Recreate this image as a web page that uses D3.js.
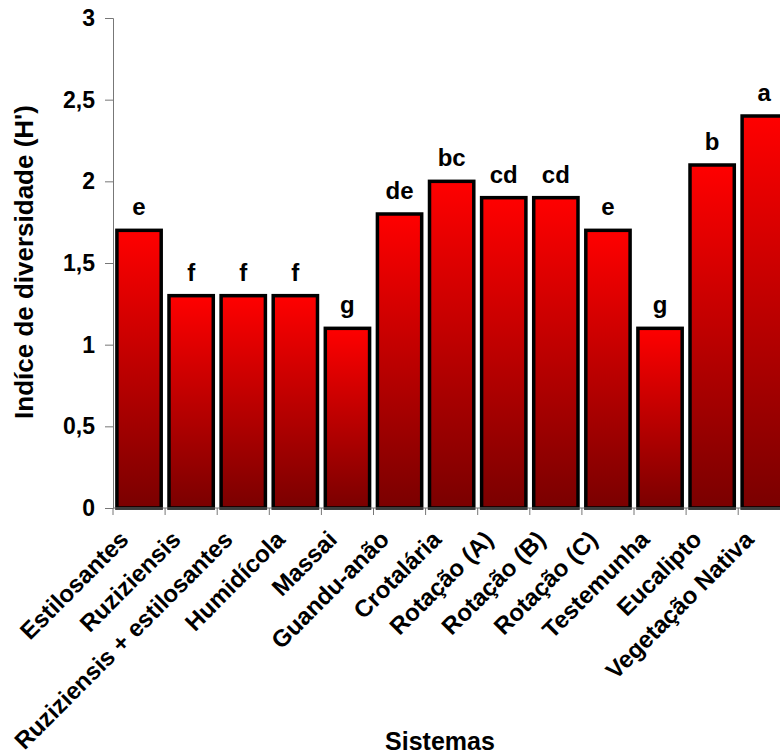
<!DOCTYPE html>
<html>
<head>
<meta charset="utf-8">
<script src="https://cdn.jsdelivr.net/npm/d3@7"></script>
<style>
  body { margin: 0; background: #fff; }
  #chart { width: 780px; height: 756px; }
  text { font-family: "Liberation Sans", Arial, sans-serif; font-weight: bold; fill: #000; }
</style>
</head>
<body>
<div id="chart"></div>
<script>
var categories = ["Estilosantes", "Ruziziensis", "Ruziziensis + estilosantes", "Humidícola",
  "Massai", "Guandu-anão", "Crotalária", "Rotação (A)", "Rotação (B)", "Rotação (C)",
  "Testemunha", "Eucalipto", "Vegetação Nativa"];
var values = [1.7, 1.3, 1.3, 1.3, 1.1, 1.8, 2.0, 1.9, 1.9, 1.7, 1.1, 2.1, 2.4];
var letters = ["e", "f", "f", "f", "g", "de", "bc", "cd", "cd", "e", "g", "b", "a"];
var yTicks = [0, 0.5, 1, 1.5, 2, 2.5, 3];

var width = 780, height = 756;
var margin = {top: 18, left: 113, bottom: 248};

var svg = d3.select("#chart")
  .append("svg")
  .attr("width", width)
  .attr("height", height);

var grad = svg.append("defs").append("linearGradient")
  .attr("id", "barGrad")
  .attr("x1", 0).attr("y1", 0).attr("x2", 0).attr("y2", 1);
grad.append("stop").attr("offset", "0%").attr("stop-color", "#ff0000");
grad.append("stop").attr("offset", "100%").attr("stop-color", "#7a0000");

var step = 52.1;
var xScale = d3.scaleBand()
  .domain(categories)
  .range([margin.left, margin.left + step * categories.length])
  .paddingInner(0.15)
  .paddingOuter(0.075);

var yScale = d3.scaleLinear()
  .domain([0, 3])
  .range([height - margin.bottom, margin.top]);

// y axis
var yAxis = svg.append("g")
  .attr("transform", `translate(${margin.left},0)`)
  .call(d3.axisLeft(yScale)
    .tickValues(yTicks)
    .tickSize(8)
    .tickPadding(10)
    .tickFormat(function(d) { return String(d).replace(".", ","); }));
yAxis.select(".domain").attr("stroke", "#777");
yAxis.selectAll(".tick line").attr("stroke", "#777");
yAxis.selectAll("text")
  .attr("font-size", 23)
  .attr("font-family", "Liberation Sans, Arial, sans-serif")
  .attr("font-weight", "bold")
  .attr("fill", "#000");

// bars
svg.selectAll("rect.bar")
  .data(values)
  .enter()
  .append("rect")
    .attr("class", "bar")
    .attr("x", function(d, i) { return xScale(categories[i]); })
    .attr("y", function(d) { return yScale(d); })
    .attr("width", xScale.bandwidth())
    .attr("height", function(d) { return yScale(0) - yScale(d); })
    .attr("fill", "url(#barGrad)")
    .attr("stroke", "#000")
    .attr("stroke-width", 3.5);

// x axis line and ticks between categories
var x0 = xScale.range()[0];
svg.append("line")
  .attr("x1", x0).attr("x2", xScale.range()[1])
  .attr("y1", yScale(0)).attr("y2", yScale(0))
  .attr("stroke", "#777");
svg.selectAll("line.xtick")
  .data(d3.range(categories.length + 1))
  .enter()
  .append("line")
    .attr("class", "xtick")
    .attr("x1", function(i) { return x0 + i * xScale.step(); })
    .attr("x2", function(i) { return x0 + i * xScale.step(); })
    .attr("y1", yScale(0))
    .attr("y2", yScale(0) + 7)
    .attr("stroke", "#777");

// category labels
svg.selectAll("text.xlab")
  .data(categories)
  .enter()
  .append("text")
    .attr("class", "xlab")
    .attr("transform", function(d) {
      var cx = xScale(d) + xScale.bandwidth() / 2 - 9;
      return `translate(${cx},${yScale(0) + 33}) rotate(-45)`;
    })
    .attr("text-anchor", "end")
    .attr("font-size", 24)
    .text(function(d) { return d; });

// letters above bars
svg.selectAll("text.letter")
  .data(values)
  .enter()
  .append("text")
    .attr("class", "letter")
    .attr("x", function(d, i) { return xScale(categories[i]) + xScale.bandwidth() / 2; })
    .attr("y", function(d) { return yScale(d) - 15; })
    .attr("text-anchor", "middle")
    .attr("font-size", 24)
    .text(function(d, i) { return letters[i]; });

// axis titles
svg.append("text")
  .attr("transform", "rotate(-90)")
  .attr("x", -262)
  .attr("y", 33)
  .attr("text-anchor", "middle")
  .attr("font-size", 26)
  .text("Indíce de diversidade (H')");

svg.append("text")
  .attr("x", 440)
  .attr("y", 750)
  .attr("text-anchor", "middle")
  .attr("font-size", 25)
  .text("Sistemas");
</script>
</body>
</html>
